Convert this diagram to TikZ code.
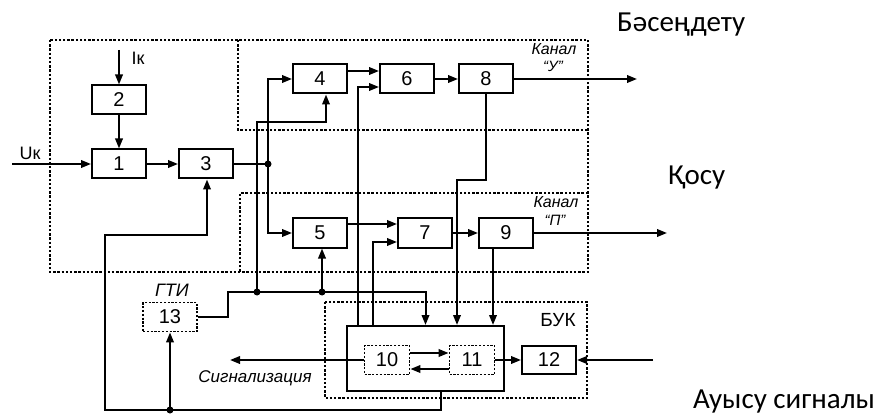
\documentclass[tikz,border=0pt]{standalone}
\usepackage{fontspec}
\setmainfont{Liberation Sans}
\newfontfamily\kazfont{Carlito}
\usetikzlibrary{arrows.meta,calc}

\begin{document}
\begin{tikzpicture}[x=1pt, y=-1pt]
\tikzstyle{block} = [rectangle, draw, line width=2pt, minimum width=54pt, minimum height=29pt, inner sep=0pt, font=\fontsize{20}{20}\selectfont]
\tikzstyle{dblock} = [block, dash pattern=on 2.2pt off 1.6pt, line width=1.8pt]
\tikzstyle{group} = [line width=2.2pt, dash pattern=on 2.4pt off 1.8pt]
\tikzstyle{wire} = [line width=2pt]
\tikzstyle{arrow} = [wire, -{Triangle[length=10pt,width=7.5pt]}]
\tikzstyle{dot} = [circle, fill, inner sep=0pt, minimum size=7pt]
\tikzstyle{note} = [font=\itshape\fontsize{17}{17}\selectfont, inner sep=0pt]
\tikzstyle{kaz} = [font=\kazfont\fontsize{29}{29}\selectfont, anchor=base west, inner sep=0pt]

\useasboundingbox (0,0) rectangle (878,414);

% dashed frames
\draw[group] (50,40) rectangle (588,272);
\draw[group] (238,40) -- (238,130) -- (588,130);
\draw[group] (588,193) -- (240,193) -- (240,272);
\draw[group] (325,302) rectangle (587,398);

% blocks
\node (b2) [block] at (119,100) {2};
\node (b1) [block] at (119,164) {1};
\node (b3) [block] at (206,164) {3};
\node (b4) [block] at (320,79) {4};
\node (b6) [block] at (407,79) {6};
\node (b8) [block] at (486,79) {8};
\node (b5) [block] at (320,233) {5};
\node (b7) [block] at (425,233) {7};
\node (b9) [block] at (506,233) {9};
\node (buk) [block, minimum width=157pt, minimum height=65pt] at (425.5,358.5) {};
\node (b10) [dblock, minimum width=45pt] at (387,360) {10};
\node (b11) [dblock, minimum width=45pt] at (472,360) {11};
\node (b12) [block, minimum height=28pt] at (549,360) {12};
\node (b13) [dblock] at (170,317) {13};

% labels
\node (uk) [font=\fontsize{18}{18}\selectfont, inner sep=0pt] at (30,153) {Uк};
\node (ik) [font=\fontsize{18}{18}\selectfont, inner sep=0pt] at (138,58) {Iк};
\node (kanU) [note, font=\itshape\fontsize{16}{16}\selectfont] at (554,49) {Канал};
\node (kanUq) [note, font=\itshape\fontsize{15}{15}\selectfont] at (553,66) {“У”};
\node (kanP) [note, font=\itshape\fontsize{16}{16}\selectfont] at (556,202) {Канал};
\node (kanPq) [note, font=\itshape\fontsize{15}{15}\selectfont] at (555,220) {“П”};
\node (gti) [note, font=\itshape\fontsize{18}{18}\selectfont] at (172,290) {ГТИ};
\node (bukl) [font=\fontsize{19}{19}\selectfont, inner sep=0pt] at (558,320) {БУК};
\node (signal) [note] at (255,378) {Сигнализация};
\node (lowr) [kaz] at (617,32) {Бәсеңдету};
\node (addc) [kaz] at (668,185) {Қосу};
\node (swch) [kaz] at (693,408) {Ауысу сигналы};

% free ends and junctions
\coordinate (ukin) at (12,164);
\coordinate (ikin) at (119,50);
\coordinate (outU) at (637,79);
\coordinate (outP) at (667,233);
\coordinate (in12) at (653,360);
\coordinate (sig) at (230,360);
\coordinate (j3) at (268,164);
\coordinate (jA) at (257,292);
\coordinate (jB) at (322,292);
\coordinate (jC) at (170,410);

% connectors
\draw[arrow] (ukin) -- (b1);
\draw[arrow] (ikin) -- (b2);
\draw[arrow] (b2) -- (b1);
\draw[arrow] (b1) -- (b3);
\draw[line width=1.2pt] (b3) -- (j3);
\draw[arrow] (j3) |- (b4.west);
\draw[arrow] (j3) |- (b5.west);
\draw[arrow] (jA) -- ++(0,-170) -| ([xshift=6pt]b4.south);
\draw[arrow] (b13.east) -- ++(30,0) |- (jB) -| (buk.north);
\draw[arrow] (jB) -- (jB |- b5.south);
\draw[arrow] ([yshift=8pt]b4.east) -- ([yshift=8pt]b6.west);
\draw[arrow] ([xshift=-67.5pt]buk.north) |- ([yshift=-8pt]b6.west);
\draw[arrow] (b6) -- (b8);
\draw[arrow] (b8) -- (outU);
\draw[arrow] ([yshift=9pt]b5.east) -- ([yshift=9pt]b7.west);
\draw[arrow] ([xshift=-52.5pt]buk.north) |- ([yshift=-9pt]b7.west);
\draw[arrow] (b7) -- (b9);
\draw[arrow] (b9) -- (outP);
\draw[arrow] (b8.south) -- ++(0,86) -| ([xshift=31.5pt]buk.north);
\draw[arrow] ([xshift=-13pt]b9.south) -- ([xshift=-13pt]b9.south |- buk.north);
\draw[arrow] ([yshift=7pt]b10.east) -- ([yshift=7pt]b11.west);
\draw[arrow] ([yshift=-9pt]b11.west) -- ([yshift=-9pt]b10.east);
\draw[arrow] (b11) -- (b12);
\draw[arrow] (in12) -- (b12);
\draw[arrow] (b10) -- (sig);
\draw[arrow] ([xshift=15.5pt]buk.south) |- (105,410) |- (207,235) -- (b3.south -| 207,0);
\draw[arrow] (jC) -- (b13);

\foreach \j in {j3,jA,jB,jC}
  \node[dot] at (\j) {};
\end{tikzpicture}
\end{document}
